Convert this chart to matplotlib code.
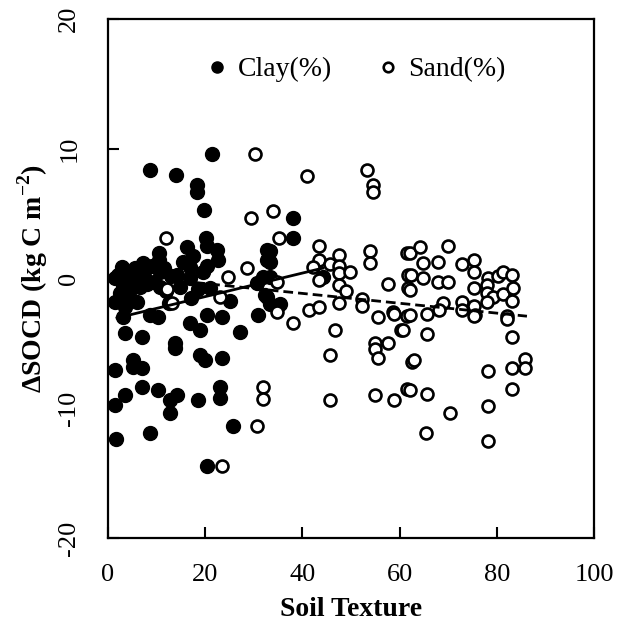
import numpy as np
import matplotlib.pyplot as plt

plt.rcParams['font.family'] = ['Liberation Serif', 'DejaVu Serif']
plt.rcParams['axes.unicode_minus'] = False
plt.rcParams['mathtext.fontset'] = 'custom'
plt.rcParams['mathtext.rm'] = 'Liberation Serif'
plt.rcParams['mathtext.bf'] = 'Liberation Serif:bold'

# clay content (%) vs change in SOC density
clay_x = [21.3, 8.6, 14.0, 18.3, 18.3, 19.8, 20.2, 20.4, 22.4, 16.3, 10.5, 10.5, 7.2,
          22.6, 20.4, 15.4, 17.5, 3.9, 1.4, 5.1, 10.7, 14.2, 16.9, 32.7, 32.7, 31.9,
          30.7, 2.5, 4.5, 6.6, 10.7, 14.8, 16.9, 21.0, 25.1, 32.7,
          2.0, 3.0, 4.0, 5.5, 6.0, 7.5, 8.0, 1.5, 3.5, 2.8, 6.8, 9.5, 12.0, 13.0,
          12.5, 17.0, 18.5, 19.5, 9.0, 11.5,
          3.1, 3.5, 7.0, 8.6, 10.3, 13.8, 13.8, 16.9, 18.9, 20.4, 23.5, 27.2, 30.9,
          18.9, 20.0, 23.5, 5.1, 5.1, 7.0, 1.4, 7.0, 10.3, 3.5, 1.4, 14.2, 12.8,
          12.8, 18.5, 23.0, 23.0, 25.7, 8.6, 1.6, 20.4,
          38.1, 38.1, 33.3, 33.3, 33.3, 44.2, 32.3, 33.3, 35.4]
clay_y = [9.6, 8.4, 8.0, 7.2, 6.7, 5.3, 3.1, 2.5, 2.2, 2.4, 2.0, 1.4, 1.2,
          1.4, 1.0, 1.3, 1.7, 0.5, 0.0, -0.1, 0.5, 0.3, 0.9, 2.2, 1.4, 0.1,
          -0.35, -1.1, -0.9, -0.65, -0.65, -0.65, 0.0, -0.7, -1.7, -1.4,
          0.3, -0.5, -1.5, 0.8, -1.8, 0.2, -0.4, -1.8, -2.2, 0.9, -0.2, -0.3, -1.0, 0.2,
          -1.9, -1.5, -0.8, 0.5, 1.0, 0.8,
          -3.0, -4.2, -4.5, -2.8, -3.0, -5.0, -5.35, -3.4, -4.0, -2.8, -3.0, -4.1, -2.8,
          -5.9, -6.3, -6.1, -6.3, -6.8, -6.9, -7.05, -8.4, -8.6, -9.0, -9.75, -9.0, -9.4,
          -10.4, -9.4, -8.4, -9.2, -11.4, -11.9, -12.4, -14.45,
          4.7, 3.1, 2.1, 1.3, 0.1, 0.1, -1.3, -2.0, -2.0]

# sand content (%) vs change in SOC density
sand_x = [30.2, 41.0, 53.3, 54.5, 54.5, 29.4, 34.0, 35.2, 11.9, 28.6, 24.7, 12.1,
          23.0, 13.2,
          43.4, 43.4, 42.2, 45.7, 47.5, 47.5, 47.5, 49.8, 47.5, 49.0, 47.5, 43.4,
          53.9, 53.9, 57.6, 52.3, 52.3, 61.5, 61.7, 61.7, 58.6, 55.6, 34.8, 34.8,
          41.4, 43.4, 38.1,
          46.7, 45.7, 31.9, 31.9, 45.7, 30.7, 58.8, 60.3, 61.5, 54.9, 54.9, 57.6,
          55.6, 54.9, 58.8, 61.5, 62.6, 23.5,
          62.1, 64.2, 70.0, 64.8, 67.9, 72.8, 75.3, 75.3, 62.3, 64.8, 67.9, 70.0,
          62.1, 75.3, 78.2, 80.2, 81.3, 83.1, 78.0, 78.0, 79.2, 81.3, 83.3, 83.1,
          78.0, 68.9, 72.8, 75.3, 72.8, 68.1, 65.6, 62.1, 75.5, 82.1,
          75.3, 82.1, 60.7, 65.6, 83.1, 63.0, 78.2, 83.1, 85.8, 85.8, 62.1, 65.6,
          83.1, 70.4, 78.2, 65.4, 78.2]
sand_y = [9.6, 7.9, 8.4, 7.2, 6.7, 4.7, 5.2, 3.1, 3.1, 0.8, 0.1, -0.8,
          -1.4, -1.9,
          2.5, 1.4, 0.9, 1.1, 1.8, 1.0, 0.4, 0.5, -0.5, -1.0, -1.9, -0.1,
          2.1, 1.2, -0.4, -1.6, -2.1, 2.0, 0.3, -0.7, -2.6, -3.0, -0.3, -2.6,
          -2.4, -2.2, -3.4,
          -4.0, -5.9, -8.4, -9.3, -9.4, -11.4, -2.7, -4.0, -2.9, -5.0, -5.4, -5.0,
          -6.1, -9.0, -9.4, -8.5, -6.4, -14.45,
          2.0, 2.4, 2.5, 1.2, 1.3, 1.1, 1.4, 0.5, 0.3, 0.0, -0.3, -0.3,
          -0.9, -0.7, 0.0, 0.2, 0.5, 0.3, -0.5, -1.1, -1.4, -1.2, -0.7, -1.7,
          -1.8, -1.9, -1.8, -2.1, -2.4, -2.4, -2.7, -2.8, -2.8, -2.9,
          -2.9, -3.1, -4.0, -4.3, -4.5, -6.3, -7.1, -6.9, -6.2, -6.9, -8.6, -8.9,
          -8.5, -10.4, -9.8, -11.9, -12.5]

# fitted trend lines: x range and (slope, intercept)
clay_fit_x = [1.85, 44.2]
clay_fit = [0.0907, -3.21]
sand_fit_x = [18.0, 86.2]
sand_fit = [-0.038, 0.37]

x_ticks = [0, 20, 40, 60, 80, 100]
y_ticks = [-20, -10, 0, 10, 20]

fig = plt.figure(figsize=(6.18, 6.29), dpi=100)
ax = fig.add_axes([0.1748, 0.1447, 0.7864, 0.8251])

ax.plot(clay_x, clay_y, 'o', color='black', markersize=10, linestyle='none',
        label='Clay(%)')
ax.plot(sand_x, sand_y, 'o', markerfacecolor='white', markeredgecolor='black',
        markersize=8.6, markeredgewidth=1.9, linestyle='none', label='Sand(%)')

cx = np.array(clay_fit_x)
ax.plot(cx, clay_fit[0] * cx + clay_fit[1], color='black', linewidth=2)
sx = np.array(sand_fit_x)
ax.plot(sx, sand_fit[0] * sx + sand_fit[1], color='black', linewidth=2,
        linestyle=(0, (3.5, 1.8)))

ax.set_xlim(0, 100)
ax.set_ylim(-20, 20)
ax.set_xticks(x_ticks)
ax.set_xticklabels([str(v) for v in x_ticks])
ax.set_yticks(y_ticks)
ax.set_yticklabels([str(v) for v in y_ticks], rotation=90, va='center')
ax.tick_params(direction='in', length=8, width=1.5, labelsize=19)
ax.tick_params(axis='x', pad=19)
ax.tick_params(axis='y', pad=20)
for s in ax.spines.values():
    s.set_linewidth(1.6)

ax.set_xlabel('Soil Texture', fontsize=20, fontweight='bold', labelpad=8)
ax.set_ylabel(r'ΔSOCD (kg C m$^{\mathbf{-2}}$)', fontsize=20, fontweight='bold',
              labelpad=6)

ax.legend(loc='upper center', ncol=2, frameon=False, fontsize=20,
          markerscale=0.8, handlelength=0.8, handletextpad=0.35,
          columnspacing=1.6, bbox_to_anchor=(0.51, 0.975))

fig.savefig('out.png', dpi=100)
